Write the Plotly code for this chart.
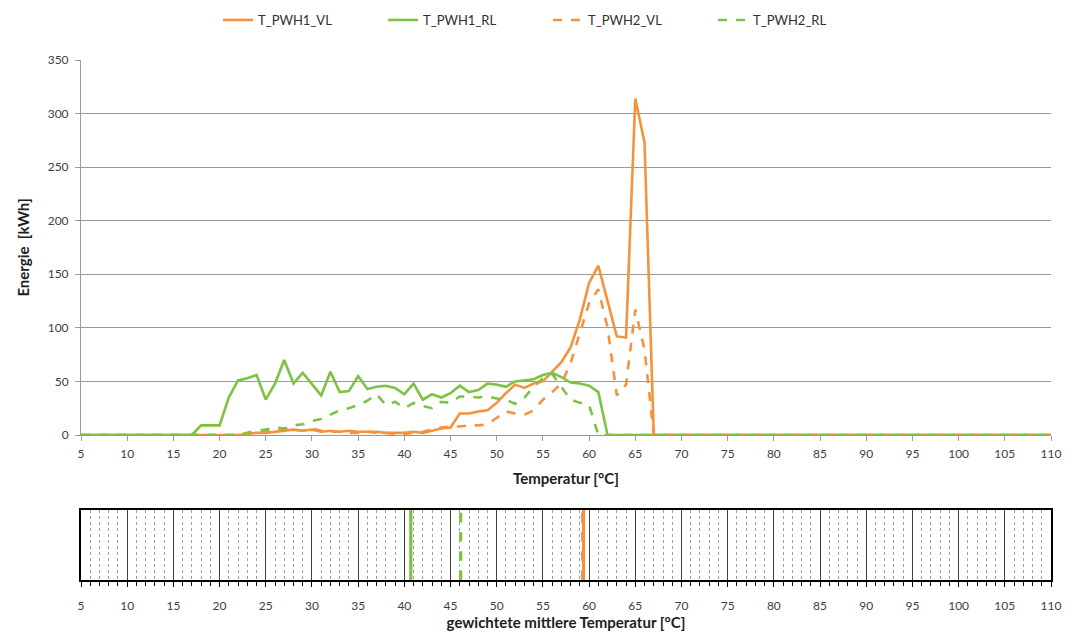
import plotly.graph_objects as go

temps = list(range(5, 111))

# T = 5 ... 110 (1 °C steps)
t_pwh1_vl = [0,0,0,0,0,0,0,0,0,0,0,0,0,0,0,0,0,0,
             1,2,2,3,4,5,4,5,3,4,3,4,3,3,3,2,2,2,3,2,4,6,7,
             20,20,22,23,30,39,47,44,48,50,59,68,82,108,142,158,125,92,91,314,273,0,
             0,0,0,0,0,0,0,0,0,0,0,0,0,0,0,0,0,0,0,0,0,0,0,0,0,0,0,0,0,0,0,0,0,0,0,0,0,0,0,0,0,0,0]
t_pwh1_rl = [0,0,0,0,0,0,0,0,0,0,0,0,0,
             9,9,9,35,51,53,56,33,48,70,48,58,48,37,59,40,41,55,43,45,46,44,38,48,33,38,35,39,
             46,40,42,48,47,45,50,51,52,56,58,54,49,48,46,40,0,
             0,0,0,0,0,0,0,0,0,0,0,0,0,0,0,0,0,0,0,0,0,0,0,0,0,0,0,0,0,0,0,0,0,0,0,0,0,0,0,0,0,0,0,0,0,0,0,0,0,0,0,0,0,0]
t_pwh2_vl = [0,0,0,0,0,0,0,0,0,0,0,0,0,0,0,0,0,0,
             1,2,3,5,6,5,4,6,4,3,3,2,2,3,2,2,1,1,2,3,5,7,8,
             8,9,9,10,16,22,20,19,23,33,40,48,67,95,123,136,100,37,47,117,80,0,
             0,0,0,0,0,0,0,0,0,0,0,0,0,0,0,0,0,0,0,0,0,0,0,0,0,0,0,0,0,0,0,0,0,0,0,0,0,0,0,0,0,0,0]
t_pwh2_rl = [0,0,0,0,0,0,0,0,0,0,0,0,0,0,0,0,0,0,
             2,4,5,7,6,9,10,13,15,19,23,25,28,32,38,28,31,25,30,27,25,31,30,
             36,36,35,36,34,33,29,35,45,53,57,45,33,30,28,0,
             0,0,0,0,0,0,0,0,0,0,0,0,0,0,0,0,0,0,0,0,0,0,0,0,0,0,0,0,0,0,0,0,0,0,0,0,0,0,0,0,0,0,0,0,0,0,0,0,0,0,0,0,0]

series_names = ["T_PWH1_VL", "T_PWH1_RL", "T_PWH2_VL", "T_PWH2_RL"]
weighted_means = [59.4, 40.7, 59.3, 46.1]

ORANGE = "#F5923E"
GREEN = "#7DC242"
colors = [ORANGE, GREEN, ORANGE, GREEN]
dashes = ["solid", "solid", "dash", "dash"]
values = [t_pwh1_vl, t_pwh1_rl, t_pwh2_vl, t_pwh2_rl]

W, H = 1074, 634
L, R, T, B = 81, 1051, 60, 580   # plot area in pixels
PW, PH = R - L, B - T
FONT = "Lato"

def py(px):
    return (B - px) / PH

fig = go.Figure()
for name, vals, c, d in zip(series_names, values, colors, dashes):
    fig.add_trace(go.Scatter(x=temps, y=vals, name=name, mode="lines",
                             line=dict(color=c, width=2.6, dash=d),
                             xaxis="x", yaxis="y"))
for name, m, c, d in zip(series_names, weighted_means, colors, dashes):
    fig.add_trace(go.Scatter(x=[m, m], y=[0, 1], mode="lines", showlegend=False,
                             line=dict(color=c, width=3.2, dash=d),
                             xaxis="x2", yaxis="y2"))

TITLE_FONT = dict(size=15, color="#202020")
TICK_FONT = dict(size=12, color="#404040")

fig.update_layout(
    width=W, height=H,
    margin=dict(l=L, r=W - R, t=T, b=H - B, autoexpand=False),
    paper_bgcolor="white", plot_bgcolor="white",
    font=dict(family=FONT, size=12, color="#404040"),
    showlegend=True,
    legend=dict(orientation="h", x=(548 - L) / PW, xanchor="center", y=py(20), yanchor="middle",
                font=dict(size=13, color="#303030"), entrywidth=120, entrywidthmode="pixels",
                tracegroupgap=0),
    xaxis=dict(domain=[0, 1], anchor="y", range=[5, 110], tick0=5, dtick=5,
               showgrid=False, showline=True, linecolor="#9A9A9A", linewidth=1,
               ticks="outside", ticklen=5, tickcolor="#9A9A9A",
               tickfont=TICK_FONT, ticklabelstandoff=3, automargin=False,
               title=dict(text="<b>Temperatur [°C]</b>", font=TITLE_FONT, standoff=13),
               zeroline=False),
    yaxis=dict(domain=[py(435), 1], anchor="x", range=[0, 350], dtick=50,
               showgrid=True, gridcolor="#9A9A9A", gridwidth=1,
               showline=True, linecolor="#9A9A9A", linewidth=1,
               ticks="outside", ticklen=5, tickcolor="#9A9A9A",
               tickfont=TICK_FONT, ticklabelstandoff=4, automargin=False,
               title=dict(text="<b>Energie  [kWh]</b>", font=TITLE_FONT, standoff=14),
               zeroline=False),
    xaxis2=dict(domain=[0, 1], anchor="y2", range=[5, 110], tick0=5, dtick=5,
                showgrid=True, gridcolor="#404040", gridwidth=1,
                showline=True, mirror=True, linecolor="#000000", linewidth=2,
                ticks="outside", ticklen=5, tickcolor="#000000", tickwidth=1,
                minor=dict(dtick=1, showgrid=True, gridcolor="#A0A0A0", griddash="dot",
                           gridwidth=1, ticks="outside", ticklen=4, tickcolor="#000000",
                           tickwidth=1),
                tickfont=TICK_FONT, ticklabelstandoff=9, automargin=False,
                title=dict(text="<b>gewichtete mittlere Temperatur [°C]</b>",
                           font=TITLE_FONT, standoff=4),
                zeroline=False),
    yaxis2=dict(domain=[0, py(510)], anchor="x2", range=[0, 1],
                showgrid=False, showticklabels=False, ticks="",
                showline=True, mirror=True, linecolor="#000000", linewidth=2,
                zeroline=False, automargin=False),
)

fig.write_html("out.html")
